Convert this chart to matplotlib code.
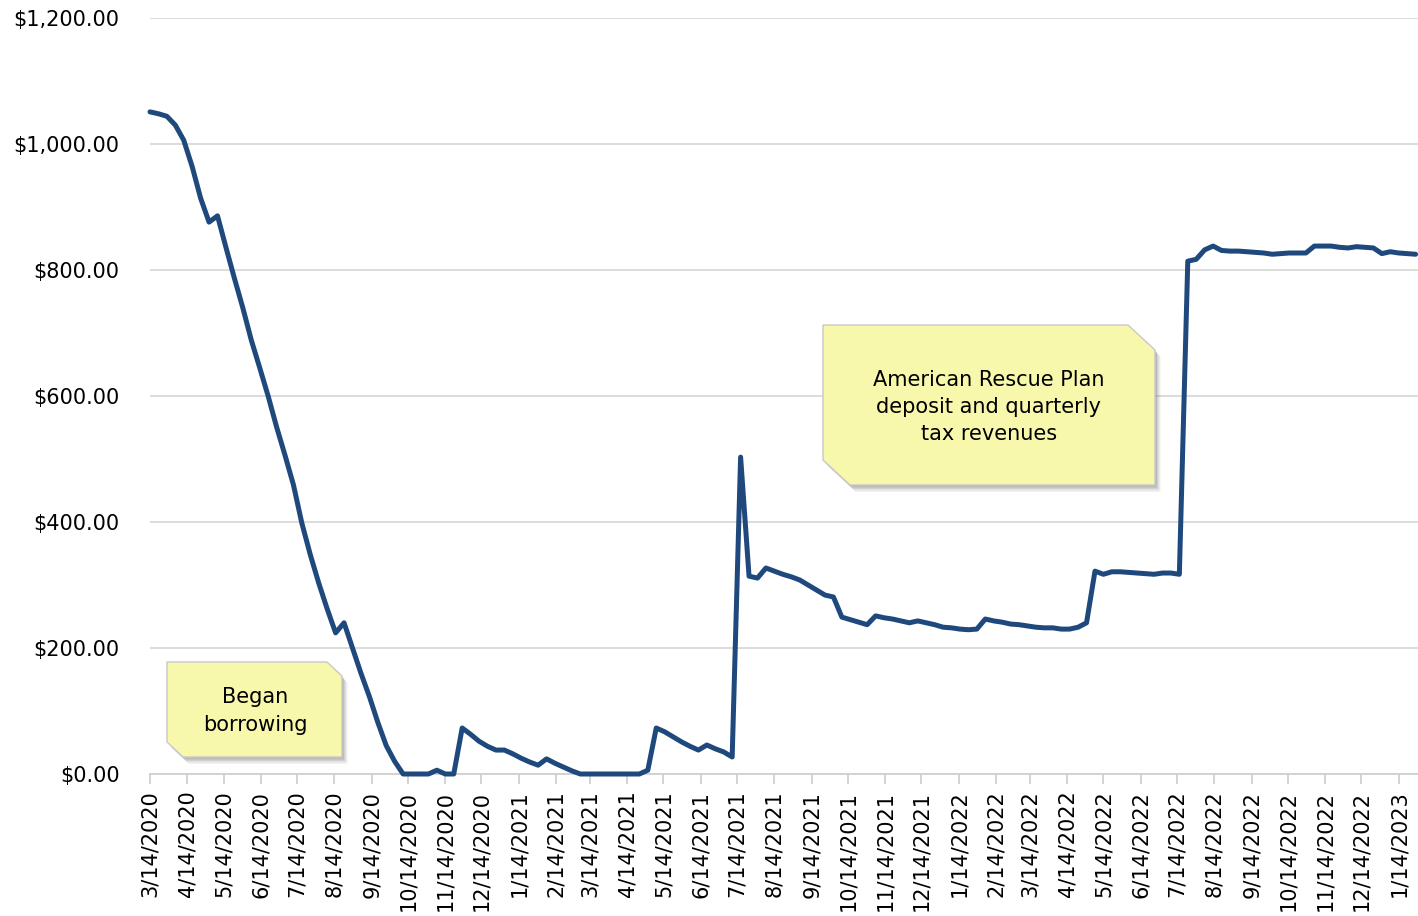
import matplotlib
matplotlib.use('Agg')
import matplotlib.pyplot as plt
from matplotlib.patches import Polygon
from matplotlib.ticker import FuncFormatter, MultipleLocator
import pandas as pd

# weekly balance (dollars)
start_date = '2020-03-14'
balance = [
    1051, 1048, 1044, 1030, 1006, 964, 914, 876, 886, 836,
    787, 740, 689, 645, 600, 551, 506, 459, 398, 348,
    303, 262, 224, 240, 200, 160, 123, 82, 45, 20,
    0, 0, 0, 0, 6, 0, 0, 73, 63, 52,
    44, 38, 38, 32, 25, 19, 14, 24, 17, 11,
    5, 0, 0, 0, 0, 0, 0, 0, 0, 6,
    73, 67, 59, 51, 44, 38, 46, 40, 35, 27,
    503, 314, 311, 327, 322, 317, 313, 308, 300, 292,
    284, 281, 249, 245, 241, 237, 251, 248, 246, 243,
    240, 243, 240, 237, 233, 232, 230, 229, 230, 246,
    243, 241, 238, 237, 235, 233, 232, 232, 230, 230,
    233, 240, 322, 317, 321, 321, 320, 319, 318, 317,
    319, 319, 317, 814, 817, 832, 838, 831, 830, 830,
    829, 828, 827, 825, 826, 827, 827, 827, 838, 838,
    838, 836, 835, 837, 836, 835, 826, 829, 827, 826, 825,
]
dates = pd.date_range(start_date, periods=len(balance), freq='7D')

tick_dates = pd.date_range('2020-03-14', '2023-01-14', freq=pd.DateOffset(months=1))
tick_labels = [f'{d.month}/{d.day}/{d.year}' for d in tick_dates]

note1 = 'Began\nborrowing'
note2 = 'American Rescue Plan\ndeposit and quarterly\ntax revenues'

W, H = 1418, 916
L, R, T, B = 150, 1418, 18, 774

fig = plt.figure(figsize=(W / 100, H / 100), dpi=100)
ax = fig.add_axes([L / W, (H - B) / H, (R - L) / W, (B - T) / H])

ax.plot(dates, balance, color='#1f497d', lw=3.6, solid_joinstyle='round',
        solid_capstyle='round', zorder=3, clip_on=False)

ax.set_ylim(0, 1200)
ax.set_xlim(pd.Timestamp('2020-03-14'), pd.Timestamp('2023-01-30'))
ax.yaxis.set_major_locator(MultipleLocator(200))
ax.yaxis.set_major_formatter(FuncFormatter(lambda v, p: f'${v:,.2f}'))
ax.grid(axis='y', color='#d9d9d9', lw=1.3)
ax.set_axisbelow(True)
for s in ['top', 'right', 'left']:
    ax.spines[s].set_visible(False)
ax.spines['bottom'].set_color('#d0d0d0')
ax.spines['bottom'].set_linewidth(1.3)

ax.set_xticks(tick_dates)
ax.set_xticklabels(tick_labels, rotation=90)
ax.tick_params(axis='x', length=7, color='#d0d0d0', width=1.3, pad=5, labelsize=15)
ax.tick_params(axis='y', length=0, pad=22, labelsize=15)


def px(x, y):
    # pixel position -> axes fraction
    return ((x - L) / (R - L), (B - y) / (B - T))


def note_box(corners, text, cx, cy):
    pts = [px(x, y) for x, y in corners]
    for i, a in enumerate([0.08, 0.10, 0.14, 0.18]):
        off = 7 - 1.5 * i
        sh = [px(x + off * 0.8, y + off) for x, y in corners]
        ax.add_patch(Polygon(sh, closed=True, transform=ax.transAxes,
                             facecolor='#606060', edgecolor='none', alpha=a, zorder=4))
    ax.add_patch(Polygon(pts, closed=True, transform=ax.transAxes,
                         facecolor='#f8f8ad', edgecolor='#c8c8c8', lw=1, zorder=5))
    tx, ty = px(cx, cy)
    ax.text(tx, ty, text, transform=ax.transAxes, ha='center', va='center',
            fontsize=15, linespacing=1.45, zorder=6)


note_box([(167, 662), (327, 662), (342, 676), (342, 757), (183, 757), (167, 742)],
         note1, 255, 711)
note_box([(823, 325), (1128, 325), (1155, 350), (1155, 485), (850, 485), (823, 460)],
         note2, 989, 407)

fig.savefig('out.png', dpi=100)
